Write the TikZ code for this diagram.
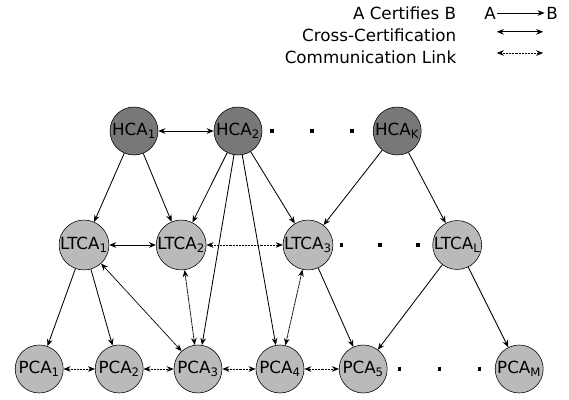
\documentclass[tikz,border=0pt]{standalone}
\usepackage{fontspec}
\setmainfont{DejaVu Sans}
\usetikzlibrary{arrows.meta}
\definecolor{hcacinza}{gray}{0.47}
\definecolor{cacinza}{gray}{0.73}
\begin{document}
\begin{tikzpicture}[
	font=\fontsize{11.9}{14.2}\selectfont,
	ca/.style={circle, draw, thin, fill=cacinza, minimum size=1.2cm, inner sep=0pt},
	hca/.style={ca, fill=hcacinza},
	certifica/.style={-{Stealth[length=5pt,width=4pt]}, semithick},
	cruzada/.style={{Stealth[length=5pt,width=4pt]}-{Stealth[length=5pt,width=4pt]}, semithick},
	comunica/.style={{Stealth[length=5pt,width=4pt]}-{Stealth[length=5pt,width=4pt]}, dash pattern=on 0.7pt off 0.35pt, semithick}]
\useasboundingbox (0,0) rectangle (14.225,9.975);

% legenda
	\node[anchor=east] at (11.53,9.65) {A Certifies B};
	\node[anchor=east] at (11.53,9.1) {Cross-Certification};
	\node[anchor=east] at (11.53,8.55) {Communication Link};
	\node[inner sep=1pt] (la) at (12.25,9.65) {A};
	\node[inner sep=1pt] (lb) at (13.8,9.65) {B};
	\draw[certifica] (la) -- (lb);
	\coordinate (cx1) at (12.42,9.18);
	\coordinate (cx2) at (13.58,9.18);
	\draw[cruzada] (cx1) -- (cx2);
	\coordinate (cm1) at (12.42,8.65);
	\coordinate (cm2) at (13.58,8.65);
	\draw[comunica] (cm1) -- (cm2);

% nivel HCA
	\node[hca] (hca1) at (3.35,6.7) {HCA\textsubscript{1}};
	\node[hca] (hca2) at (5.95,6.7) {HCA\textsubscript{2}};
	\node[hca] (hcak) at (9.93,6.7) {HCA\textsubscript{K}};

% nivel LTCA
	\node[ca] (ltca1) at (2.1,3.85) {LTCA\textsubscript{1}};
	\node[ca] (ltca2) at (4.53,3.85) {LTCA\textsubscript{2}};
	\node[ca] (ltca3) at (7.7,3.85) {LTCA\textsubscript{3}};
	\node[ca] (ltcal) at (11.43,3.85) {LTCA\textsubscript{L}};

% nivel PCA
	\node[ca] (pca1) at (0.98,0.75) {PCA\textsubscript{1}};
	\node[ca] (pca2) at (2.98,0.75) {PCA\textsubscript{2}};
	\node[ca] (pca3) at (4.95,0.75) {PCA\textsubscript{3}};
	\node[ca] (pca4) at (7.0,0.75) {PCA\textsubscript{4}};
	\node[ca] (pca5) at (9.08,0.75) {PCA\textsubscript{5}};
	\node[ca] (pcam) at (12.98,0.75) {PCA\textsubscript{M}};

% reticencias
	\foreach \x in {6.8, 7.8, 8.8}
		\fill (\x-0.04,6.66) rectangle (\x+0.04,6.74);
	\foreach \x in {8.53, 9.5, 10.45}
		\fill (\x-0.04,3.81) rectangle (\x+0.04,3.89);
	\foreach \x in {9.98, 10.98, 11.98}
		\fill (\x-0.04,0.71) rectangle (\x+0.04,0.79);

% certificacao
	\draw[certifica] (hca1) -- (ltca1);
	\draw[certifica] (hca1) -- (ltca2);
	\draw[certifica] (hca2) -- (ltca2);
	\draw[certifica] (hca2) -- (pca3);
	\draw[certifica] (hca2) -- (pca4);
	\draw[certifica] (hca2) -- (ltca3);
	\draw[certifica] (hcak) -- (ltca3);
	\draw[certifica] (hcak) -- (ltcal);
	\draw[certifica] (ltca1) -- (pca1);
	\draw[certifica] (ltca1) -- (pca2);
	\draw[certifica] (ltca3) -- (pca5);
	\draw[certifica] (ltcal) -- (pca5);
	\draw[certifica] (ltcal) -- (pcam);

% certificacao cruzada
	\draw[cruzada] (hca1) -- (hca2);
	\draw[cruzada] (ltca1) -- (ltca2);

% comunicacao
	\draw[comunica] (ltca2) -- (ltca3);
	\draw[comunica] (ltca1) -- (pca3);
	\draw[comunica] (ltca2) -- (pca3);
	\draw[comunica] (ltca3) -- (pca4);
	\foreach \a/\b in {pca1/pca2, pca2/pca3, pca3/pca4, pca4/pca5}
		\draw[comunica] (\a) -- (\b);
\end{tikzpicture}
\end{document}
